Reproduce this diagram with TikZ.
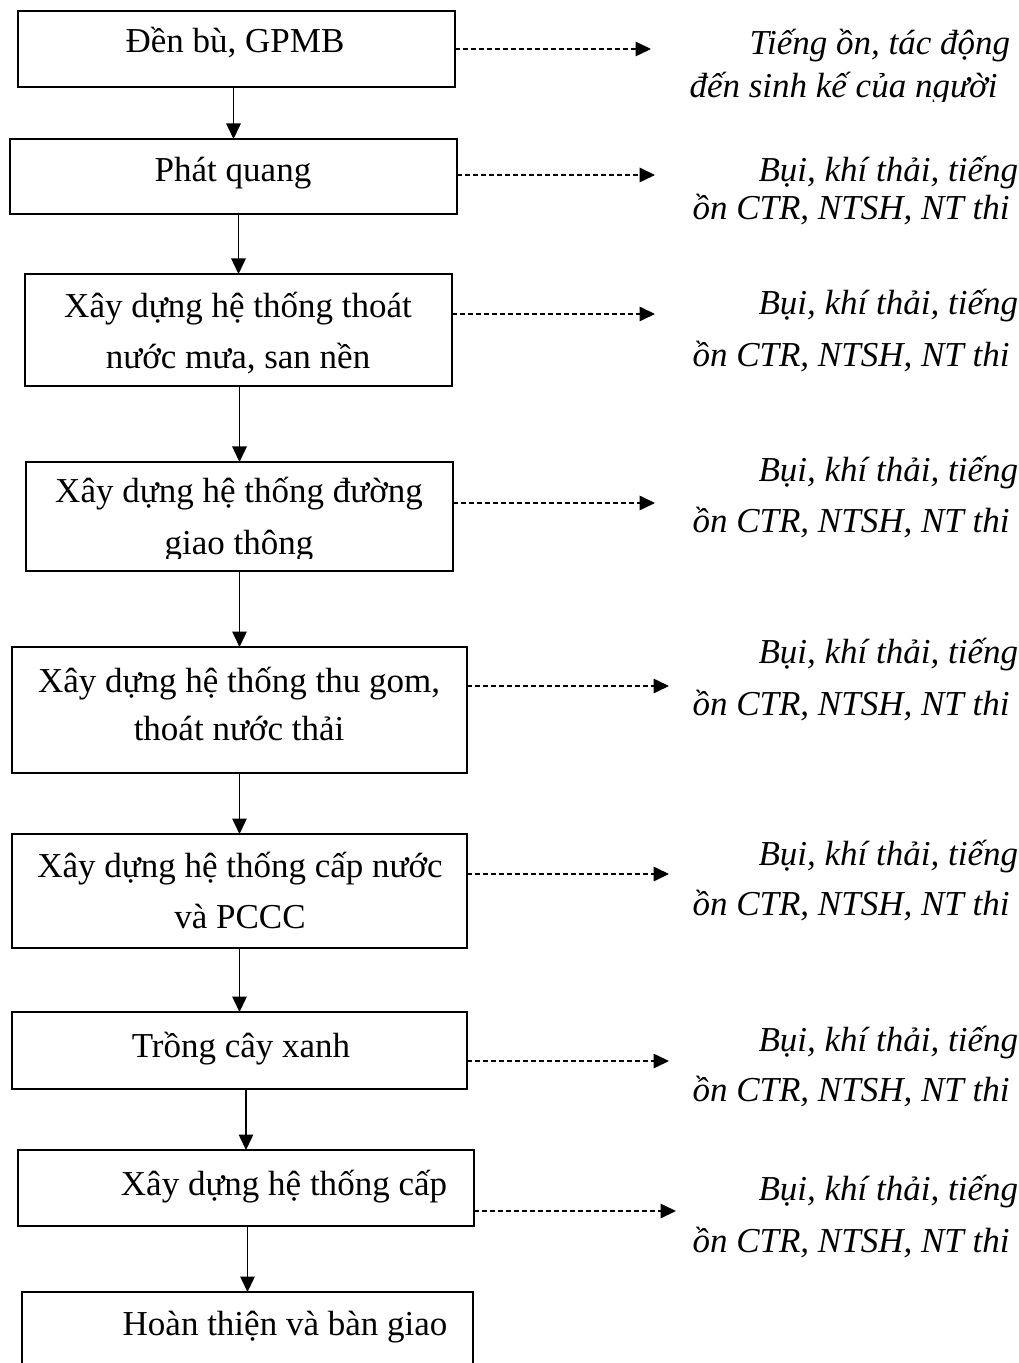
\documentclass[tikz,border=0pt]{standalone}
\usepackage{fontspec}
\setmainfont{Liberation Serif}
\usetikzlibrary{arrows.meta,fit}
\begin{document}
\begin{tikzpicture}[x=0.4pt,y=-0.4pt,
  box/.style={draw,line width=0.8pt,inner sep=0pt,outer sep=0pt},
  txt/.style={anchor=base,inner sep=0pt,font=\fontsize{14pt}{16pt}\selectfont},
  rtxt/.style={anchor=base west,inner sep=0pt,font=\fontsize{14pt}{16pt}\selectfont\itshape},
  flow/.style={line width=0.6pt,-{Triangle[length=6.2pt,width=5.8pt]}},
  effect/.style={line width=0.65pt,dash pattern=on 2.1pt off 1.1pt,-{Triangle[length=6.2pt,width=5.8pt]}}]
\useasboundingbox (0,0) rectangle (1018,1363);
% boxes
\node[box,fit={(18,11) (455,87)}] (b1) {};
\node[box,fit={(10,139) (457,214)}] (b2) {};
\node[box,fit={(25,274) (452,386)}] (b3) {};
\node[box,fit={(26,462) (453,571)}] (b4) {};
\node[box,fit={(12,647) (467,773)}] (b5) {};
\node[box,fit={(12,834) (467,948)}] (b6) {};
\node[box,fit={(12,1012) (467,1089)}] (b7) {};
\node[box,fit={(18,1150) (474,1226)}] (b8) {};
\node[box,fit={(22,1292) (473,1400)}] (b9) {};
% box texts
\node[txt] (t1) at (235,53) {Đền bù, GPMB};
\node[txt] (t2) at (233,182) {Phát quang};
\node[txt] (t3a) at (238,318) {Xây dựng hệ thống thoát};
\node[txt] (t3b) at (238,369) {nước mưa, san nền};
\node[txt] (t4a) at (239,503) {Xây dựng hệ thống đường};
\begin{scope}
\clip (26,462) rectangle (453,559);
\node[txt] (t4b) at (239,555) {giao thông};
\end{scope}
\node[txt] (t5a) at (239,692) {Xây dựng hệ thống thu gom,};
\node[txt] (t5b) at (239,740) {thoát nước thải};
\node[txt] (t6a) at (240,877) {Xây dựng hệ thống cấp nước};
\node[txt] (t6b) at (240,928) {và PCCC};
\node[txt] (t7) at (241,1057) {Trồng cây xanh};
\node[txt] (t8) at (284,1195) {Xây dựng hệ thống cấp};
\node[txt] (t9) at (285,1335) {Hoàn thiện và bàn giao};
% right texts
\node[rtxt] (r1a) at (749,55) {Tiếng ồn, tác động};
\begin{scope}
\clip (600,60) rectangle (1018,102);
\node[rtxt] (r1b) at (689,98) {đến sinh kế của người};
\end{scope}
\node[rtxt] (r2a) at (758,182) {Bụi, khí thải, tiếng};
\node[rtxt] (r2b) at (692,220) {ồn CTR, NTSH, NT thi};
\node[rtxt] (r3a) at (758,315) {Bụi, khí thải, tiếng};
\node[rtxt] (r3b) at (692,367) {ồn CTR, NTSH, NT thi};
\node[rtxt] (r4a) at (758,482) {Bụi, khí thải, tiếng};
\node[rtxt] (r4b) at (692,533) {ồn CTR, NTSH, NT thi};
\node[rtxt] (r5a) at (758,663) {Bụi, khí thải, tiếng};
\node[rtxt] (r5b) at (692,715) {ồn CTR, NTSH, NT thi};
\node[rtxt] (r6a) at (758,865) {Bụi, khí thải, tiếng};
\node[rtxt] (r6b) at (692,915) {ồn CTR, NTSH, NT thi};
\node[rtxt] (r7a) at (758,1051) {Bụi, khí thải, tiếng};
\node[rtxt] (r7b) at (692,1101) {ồn CTR, NTSH, NT thi};
\node[rtxt] (r8a) at (758,1200) {Bụi, khí thải, tiếng};
\node[rtxt] (r8b) at (692,1252) {ồn CTR, NTSH, NT thi};
% flow arrows
\draw[flow] (b2.north |- b1.south) -- (b2.north);
\draw[flow] (b3.north |- b2.south) -- (b3.north);
\draw[flow] (b4.north |- b3.south) -- (b4.north);
\draw[flow] (b5.north |- b4.south) -- (b5.north);
\draw[flow] (b6.north |- b5.south) -- (b6.north);
\draw[flow] (b7.north |- b6.south) -- (b7.north);
\draw[flow] (b8.north |- b7.south) -- (b8.north);
\draw[flow] (b9.north |- b8.south) -- (b9.north);
% effect arrows
\coordinate (e1) at (651,49);
\coordinate (e2) at (655,175);
\coordinate (e3) at (655,314);
\coordinate (e4) at (655,503);
\coordinate (e5) at (669,686);
\coordinate (e6) at (669,874);
\coordinate (e7) at (669,1061);
\coordinate (e8) at (676,1211);
\draw[effect] (b1.east |- e1) -- (e1);
\draw[effect] (b2.east |- e2) -- (e2);
\draw[effect] (b3.east |- e3) -- (e3);
\draw[effect] (b4.east |- e4) -- (e4);
\draw[effect] (b5.east |- e5) -- (e5);
\draw[effect] (b6.east |- e6) -- (e6);
\draw[effect] (b7.east |- e7) -- (e7);
\draw[effect] (b8.east |- e8) -- (e8);
\end{tikzpicture}
\end{document}
